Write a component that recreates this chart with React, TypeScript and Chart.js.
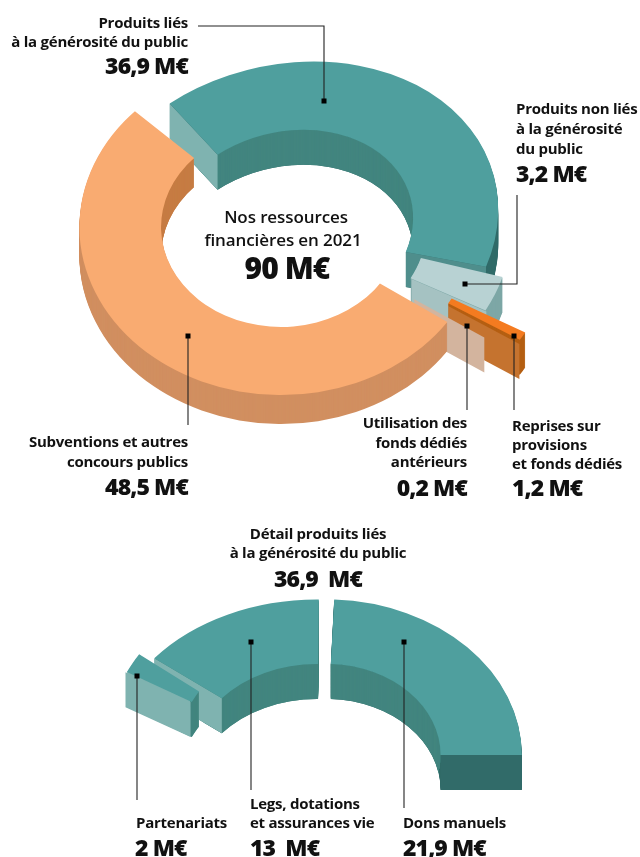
import React, { useEffect, useRef } from "react";
import { Chart, registerables } from "chart.js";
Chart.register(...registerables);

// ---- data ----
const topNames = ["Produits liés à la générosité du public", "Produits non liés à la générosité du public", "Reprises sur provisions et fonds dédiés", "Utilisation des fonds dédiés antérieurs", "Subventions et autres concours publics"];
const topValues = [36.9, 3.2, 1.2, 0.2, 48.5];
const topGaps = [0.15, 0.13, 0, 0.38, 1.65];
const detailNames = ["Dons manuels", "Partenariats", "Legs, dotations et assurances vie"];
const detailValues = [21.9, 2, 13];
const detailGaps = [51.875, 0.75, 0.475];

// ---- style ----
type Look = { top: string; outer: string; inner: string; startFace?: string; endFace?: string; offset: number; dx?: number; dy?: number; sx?: number; sy?: number; shear?: number; skew?: number; depth?: number; spin?: number };
const TEAL = "#4F9F9E";
const topLooks: Look[] = [
  { top: TEAL, outer: "#316B69", inner: "#42857F", startFace: "#7FB3B0", endFace: "#4F8E8C", offset: 0, shear: -0.06, skew: -0.06, spin: 1.5 },
  { top: "#B8D2D3", outer: "#7DA7A6", inner: "#7DA7A6", endFace: "#A5C2C2", offset: 13, dx: 2, dy: -3 },
  { top: "#F47B20", outer: "#B55F12", inner: "#B55F12", endFace: "#C5732F", offset: 60, dx: 6, dy: -5 },
  { top: "#EDCDB8", outer: "#D3B49E", inner: "#D3B49E", endFace: "#D3B49E", offset: 28 },
  { top: "#F9AB71", outer: "#D18F60", inner: "#C67C43", offset: 0, sx: 0.96, dx: -7, dy: -3, depth: 29, spin: -1.5 },
];
const detailLooks: Look[] = [
  { top: TEAL, outer: "#316B69", inner: "#42857F", endFace: "#316B69", offset: 0, sx: 1.02, dx: -4 },
  { top: TEAL, outer: "#7FB3B0", inner: "#42857F", startFace: "#7FB3B0", offset: 16, sx: 0.92, dx: -35, dy: -4.5 },
  { top: TEAL, outer: "#42857F", inner: "#42857F", startFace: "#7FB3B0", offset: 0, sx: 1.083, dx: -13 },
];
const topOrder = [0, 1, 2, 3, 4];
const detailOrder = [0, 2, 1];
const DEPTH = 35;

type Leader = number[][];
const topLeaders: Leader[] = [
  [[324, 101], [324, 26], [198, 26]],
  [[465, 284], [517, 284], [517, 195]],
  [[467, 326], [467, 410]],
  [[514, 336], [514, 410]],
  [[188, 336], [188, 425]],
];
const detailLeaders: Leader[] = [
  [[137, 166], [137, 290]],
  [[251, 132], [251, 280]],
  [[404, 132], [404, 298]],
];

function interleave(values: number[], gaps: number[]) {
  const out: number[] = [];
  values.forEach((v, i) => out.push(v, gaps[i]));
  return out;
}

const extrude = {
  id: "extrude",
  beforeDatasetsDraw(chart: any, _a: any, opts: any) {
    const { ctx } = chart;
    const meta = chart.getDatasetMeta(0);
    const looks: Look[] = opts.looks;
    (opts.order as number[]).forEach((i) => {
      const look = looks[i];
      const arc = meta.data[i * 2];
      const base = arc.options;
      const depth = look.depth ?? DEPTH;
      const mid = arc.startAngle + (arc.endAngle - arc.startAngle) / 2;
      // an offset arc is moved by half the displacement and its radii grow by the other half
      const half = look.offset / 2;
      const ox = Math.cos(mid) * half;
      const oy = Math.sin(mid) * half;
      const sx = look.sx ?? 1;
      const sy = opts.tilt * (look.sy ?? 1);
      const shear = look.shear ?? 0;
      const skew = look.skew ?? 0;
      const spin = ((look.spin ?? 0) * Math.PI) / 180;
      const cx = opts.cx + (look.dx ?? 0);
      const cy = opts.cy + (look.dy ?? 0);
      const place = (d: number) => {
        ctx.translate(cx, cy + d);
        ctx.transform(1, skew, shear, 1, 0, 0);
        ctx.scale(sx, sy);
        ctx.rotate(spin);
        ctx.translate(-arc.x, -arc.y);
      };
      const paint = (color: string, d: number) => {
        ctx.save();
        place(d);
        arc.options = { ...base, backgroundColor: color, borderColor: color, borderWidth: 0, offset: look.offset * 2 };
        arc.draw(ctx);
        ctx.restore();
      };
      const stack = (color: string) => {
        for (let d = depth; d >= 1; d--) paint(color, d);
      };
      stack(look.outer);
      ctx.save();
      place(0);
      ctx.beginPath();
      ctx.arc(arc.x + ox, arc.y + oy, arc.innerRadius + half, 0, Math.PI * 2);
      ctx.setTransform(1, 0, 0, 1, 0, 0);
      ctx.clip();
      stack(look.inner);
      ctx.restore();
      const face = (angle: number, color?: string) => {
        if (!color) return;
        const pt = (r: number) => {
          const X0 = ox + (r + half) * Math.cos(angle);
          const Y0 = oy + (r + half) * Math.sin(angle);
          const X = sx * (X0 * Math.cos(spin) - Y0 * Math.sin(spin));
          const Y = sy * (X0 * Math.sin(spin) + Y0 * Math.cos(spin));
          return [cx + X + shear * Y, cy + Y + skew * X];
        };
        const a = pt(arc.innerRadius);
        const b = pt(arc.outerRadius);
        ctx.fillStyle = color;
        ctx.beginPath();
        ctx.moveTo(a[0], a[1]);
        ctx.lineTo(b[0], b[1]);
        ctx.lineTo(b[0], b[1] + depth);
        ctx.lineTo(a[0], a[1] + depth);
        ctx.closePath();
        ctx.fill();
      };
      face(arc.startAngle, look.startFace);
      face(arc.endAngle, look.endFace);
      paint(look.top, 0);
      arc.options = base;
    });
    return false;
  },
  afterDraw(chart: any, _a: any, opts: any) {
    const { ctx } = chart;
    (opts.leaders as Leader[]).forEach((pts) => {
      ctx.strokeStyle = "#222";
      ctx.lineWidth = 1.1;
      ctx.beginPath();
      pts.forEach((p, k) => (k ? ctx.lineTo(p[0], p[1]) : ctx.moveTo(p[0], p[1])));
      ctx.stroke();
      ctx.fillStyle = "#000";
      ctx.fillRect(pts[0][0] - 2.5, pts[0][1] - 2.5, 5, 5);
    });
  },
};

function makeChart(canvas: HTMLCanvasElement, names: string[], values: number[], gaps: number[], looks: Look[], order: number[], rotation: number, cutout: string, tilt: number, cx: number, cy: number, leaders: Leader[], radius: number) {
  const data = interleave(values, gaps);
  const labels = names.flatMap((n) => [n, ""]);
  return new Chart(canvas, {
    type: "doughnut",
    data: {
      labels,
      datasets: [{
        data,
        backgroundColor: looks.flatMap((l) => [l.top, "rgba(0,0,0,0)"]),
        offset: looks.flatMap((l) => [l.offset * 2, 0]),
        borderWidth: 0,
      }],
    },
    options: {
      responsive: false,
      animation: false,
      events: [],
      rotation,
      radius,
      cutout,
      layout: { padding: 0 },
      plugins: {
        legend: { display: false },
        tooltip: { enabled: false },
        extrude: { looks, order, tilt, cx, cy, leaders },
      },
    } as any,
    plugins: [extrude as any],
  });
}

// ---- text ----
type T = { t: string; x: number; y: number; a?: "l" | "r" | "c"; big?: number; mid?: boolean };
const texts: T[] = [
  { t: "Produits liés", x: 188, y: 22, a: "r" },
  { t: "à la générosité du public", x: 188, y: 41, a: "r" },
  { t: "36,9 M€", x: 188, y: 65, a: "r", big: 23 },
  { t: "Produits non liés", x: 516, y: 108 },
  { t: "à la générosité", x: 516, y: 128 },
  { t: "du public", x: 516, y: 148 },
  { t: "3,2 M€", x: 516, y: 173, big: 23 },
  { t: "Nos ressources", x: 286, y: 216, a: "c", mid: true },
  { t: "financières en 2021", x: 283, y: 239, a: "c", mid: true },
  { t: "90 M€", x: 287, y: 268, a: "c", big: 30 },
  { t: "Subventions et autres", x: 188, y: 441, a: "r" },
  { t: "concours publics", x: 188, y: 461, a: "r" },
  { t: "48,5 M€", x: 188, y: 486, a: "r", big: 23 },
  { t: "Utilisation des", x: 467, y: 422, a: "r" },
  { t: "fonds dédiés", x: 467, y: 442, a: "r" },
  { t: "antérieurs", x: 467, y: 461, a: "r" },
  { t: "0,2 M€", x: 467, y: 487, a: "r", big: 23 },
  { t: "Reprises sur", x: 512, y: 425 },
  { t: "provisions", x: 512, y: 444 },
  { t: "et fonds dédiés", x: 512, y: 463 },
  { t: "1,2 M€", x: 512, y: 487, big: 23 },
  { t: "Détail produits liés", x: 318, y: 533, a: "c" },
  { t: "à la générosité du public", x: 318, y: 552, a: "c" },
  { t: "36,9  M€", x: 318, y: 578, a: "c", big: 23 },
  { t: "Partenariats", x: 136, y: 822 },
  { t: "2 M€", x: 135, y: 847, big: 23 },
  { t: "Legs, dotations", x: 250, y: 803 },
  { t: "et assurances vie", x: 250, y: 822 },
  { t: "13  M€", x: 250, y: 847, big: 23 },
  { t: "Dons manuels", x: 403, y: 822 },
  { t: "21,9 M€", x: 403, y: 847, big: 23 },
];

function Label({ t, x, y, a = "l", big, mid }: T) {
  const tx = a === "r" ? "-100%" : a === "c" ? "-50%" : "0";
  return (
    <div style={{
      position: "absolute", left: x, top: y, transform: `translate(${tx}, -50%)`,
      whiteSpace: "pre", color: "#111",
      fontFamily: "'Open Sans', sans-serif",
      fontWeight: big ? 800 : mid ? 600 : 700,
      fontSize: big ?? (mid ? 17 : 15),
      letterSpacing: big ? "-0.9px" : mid ? "-0.1px" : "-0.25px",
      lineHeight: 1,
    }}>{t}</div>
  );
}

export default function App() {
  const a = useRef<HTMLCanvasElement>(null);
  const b = useRef<HTMLCanvasElement>(null);
  useEffect(() => {
    document.body.style.margin = "0";
    const c1 = makeChart(a.current!, topNames, topValues, topGaps, topLooks, topOrder, -38.5, "59.5%", 0.8, 288, 230, topLeaders, 210);
    const c2 = makeChart(b.current!, detailNames, detailValues, detailGaps, detailLooks, detailOrder, 2.4, "58.5%", 0.81, 330, 245, detailLeaders, 192);
    return () => { c1.destroy(); c2.destroy(); };
  }, []);
  return (
    <div style={{ position: "absolute", left: 0, top: 0, width: 640, height: 857, overflow: "hidden", background: "#fff" }}>
      <canvas ref={a} width={640} height={510} style={{ position: "absolute", left: 0, top: 0 }} />
      <canvas ref={b} width={640} height={347} style={{ position: "absolute", left: 0, top: 510 }} />
      {texts.map((t, i) => <Label key={i} {...t} />)}
    </div>
  );
}
